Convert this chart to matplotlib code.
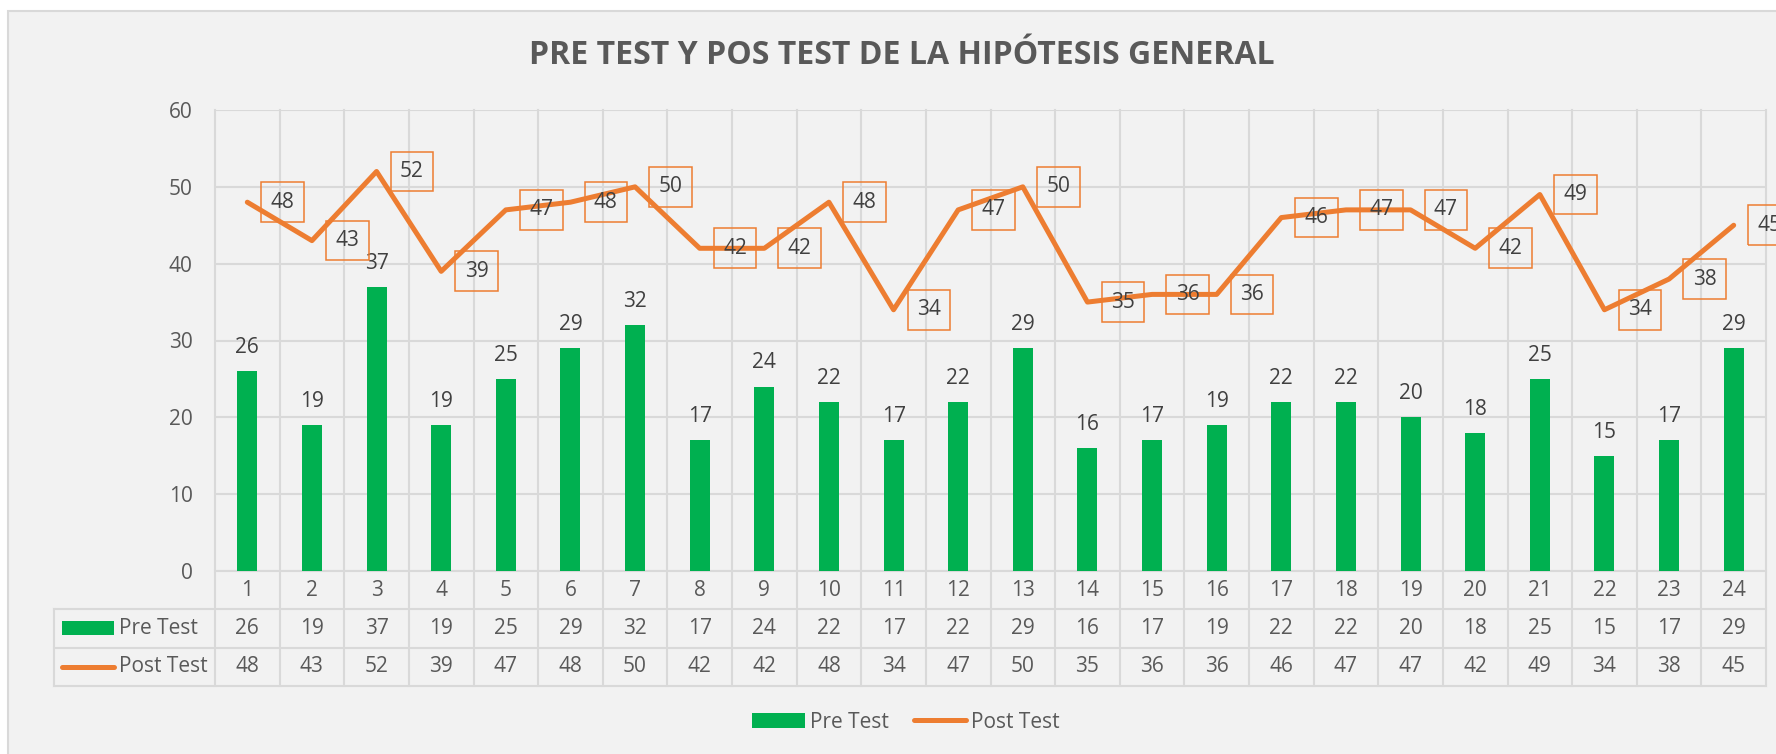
import matplotlib.pyplot as plt
from matplotlib.patches import Rectangle, Patch
from matplotlib.lines import Line2D

plt.rcParams["font.family"] = ["Open Sans", "DejaVu Sans"]

# datos del gráfico
categorias = [str(i) for i in range(1, 25)]
pre_test = [26, 19, 37, 19, 25, 29, 32, 17, 24, 22, 17, 22,
            29, 16, 17, 19, 22, 22, 20, 18, 25, 15, 17, 29]
post_test = [48, 43, 52, 39, 47, 48, 50, 42, 42, 48, 34, 47,
             50, 35, 36, 36, 46, 47, 47, 42, 49, 34, 38, 45]
titulo = "PRE TEST Y POS TEST DE LA HIPÓTESIS GENERAL"

VERDE = "#00B050"
NARANJA = "#ED7D31"
GRIS_TXT = "#595959"
GRIS_LIN = "#D9D9D9"
FONDO = "#F2F2F2"

W, H = 1776, 754
fig = plt.figure(figsize=(W / 100, H / 100), dpi=100)
fig.patch.set_facecolor("white")

# marco del gráfico (se sale por la derecha y por abajo)
fig.patches.append(Rectangle((8 / W, -0.1), 1.2, 1 - 11 / H + 0.1,
                             transform=fig.transFigure, facecolor=FONDO,
                             edgecolor=GRIS_LIN, linewidth=1.5, zorder=-10))

fig.text(902 / W, 1 - 55 / H, titulo, ha="center", va="center",
         fontsize=23, fontweight="bold", color=GRIS_TXT)

# área de trazado en píxeles
x0, x1, ytop, ybot = 215, 1766, 110, 571
ax = fig.add_axes([x0 / W, (H - ybot) / H, (x1 - x0) / W, (ybot - ytop) / H])
ax.set_facecolor("none")
ax.set_xlim(-0.5, len(categorias) - 0.5)
ax.set_ylim(0, 60)
ax.set_yticks(range(0, 61, 10))
ax.set_xticks([])
for s in ax.spines.values():
    s.set_visible(False)
ax.tick_params(axis="y", length=0, pad=16, labelsize=15, labelcolor=GRIS_TXT)
ax.yaxis.grid(True, color=GRIS_LIN, linewidth=1.5)
ax.set_axisbelow(True)

x = list(range(len(categorias)))


def ay(ypx):
    # fila en píxeles -> fracción del eje
    return (ybot - ypx) / (ybot - ytop)


tr = ax.get_xaxis_transform()
fila_cat, fila_pre, fila_post, fila_fin = 571, 609, 648, 686

# líneas verticales de la cuadrícula y de la tabla
for b in range(len(categorias) + 1):
    ax.plot([b - 0.5, b - 0.5], [1, ay(fila_fin)], transform=tr, color=GRIS_LIN,
            linewidth=1.5, clip_on=False, zorder=0.5)
# líneas horizontales de la tabla
left_tab = (54 - x0) / (x1 - x0)
for yy, xs in [(fila_cat, 0), (fila_pre, left_tab), (fila_post, left_tab), (fila_fin, left_tab)]:
    ax.plot([xs, 1], [ay(yy), ay(yy)], transform=ax.transAxes, color=GRIS_LIN,
            linewidth=1.5, clip_on=False, zorder=0.5)
ax.plot([left_tab, left_tab], [ay(fila_pre), ay(fila_fin)], transform=ax.transAxes,
        color=GRIS_LIN, linewidth=1.5, clip_on=False)

ax.bar(x, pre_test, width=0.31, color=VERDE, zorder=2)
ax.plot(x, post_test, color=NARANJA, linewidth=3.6, solid_joinstyle="round",
        solid_capstyle="round", zorder=3)

for xi, v in zip(x, pre_test):
    ax.annotate(str(v), (xi, v), xytext=(0, 17), textcoords="offset points",
                ha="center", va="center", fontsize=15, color="#404040")
for xi, v in zip(x, post_test):
    ax.annotate(str(v), (xi, v), xytext=(25.5, 0), textcoords="offset points",
                ha="center", va="center", fontsize=15, color="#404040",
                bbox=dict(boxstyle="square,pad=0.45", facecolor="none",
                          edgecolor=NARANJA, linewidth=1.1), zorder=4)

# tabla de datos
for xi in x:
    ax.text(xi, ay((fila_cat + fila_pre) / 2), categorias[xi], transform=tr,
            ha="center", va="center", fontsize=15, color=GRIS_TXT)
    ax.text(xi, ay((fila_pre + fila_post) / 2), str(pre_test[xi]), transform=tr,
            ha="center", va="center", fontsize=15, color=GRIS_TXT)
    ax.text(xi, ay((fila_post + fila_fin) / 2), str(post_test[xi]), transform=tr,
            ha="center", va="center", fontsize=15, color=GRIS_TXT)

fig.patches.append(Rectangle((62 / W, 1 - 635 / H), 52 / W, 14 / H,
                             transform=fig.transFigure, facecolor=VERDE, zorder=3))
fig.text(119 / W, 1 - 628 / H, "Pre Test", ha="left", va="center",
         fontsize=15, color=GRIS_TXT)
fig.lines.append(Line2D([62 / W, 114 / W], [1 - 667 / H, 1 - 667 / H],
                        transform=fig.transFigure, color=NARANJA, linewidth=3.6,
                        solid_capstyle="round"))
fig.text(119 / W, 1 - 667 / H, "Post Test", ha="left", va="center",
         fontsize=15, color=GRIS_TXT)

# leyenda inferior
handles = [Patch(facecolor=VERDE, label="Pre Test"),
           Line2D([], [], color=NARANJA, linewidth=3.6, solid_capstyle="round",
                  label="Post Test")]
fig.legend(handles=handles, loc="center", bbox_to_anchor=(906 / W, 1 - 722 / H),
           ncol=2, frameon=False, fontsize=15, labelcolor=GRIS_TXT,
           handlelength=2.5, handletextpad=0.25, columnspacing=1.2)

fig.savefig("out.png", dpi=100, facecolor="white")
